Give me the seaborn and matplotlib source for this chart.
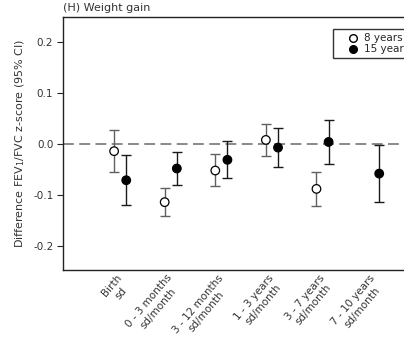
import numpy as np
import pandas as pd
import matplotlib
matplotlib.use("Agg")
import matplotlib.pyplot as plt
import matplotlib.transforms as mtransforms
import seaborn as sns
from matplotlib.lines import Line2D

categories = ["Birth\nsd", "0 - 3 months\nsd/month", "3 - 12 months\nsd/month",
              "1 - 3 years\nsd/month", "3 - 7 years\nsd/month", "7 - 10 years\nsd/month"]
est_8 = [-0.014, -0.114, -0.052, 0.008, -0.088, np.nan]
lo_8 = [-0.055, -0.142, -0.082, -0.023, -0.122, np.nan]
hi_8 = [0.027, -0.087, -0.020, 0.040, -0.054, np.nan]
est_15 = [-0.071, -0.048, -0.031, -0.007, 0.004, -0.058]
lo_15 = [-0.120, -0.081, -0.067, -0.045, -0.039, -0.114]
hi_15 = [-0.022, -0.015, 0.005, 0.031, 0.048, -0.002]
yticks = [-0.2, -0.1, 0.0, 0.1, 0.2]

sns.set_style("ticks")
plt.rcParams['font.family'] = ['DejaVu Sans']

fig = plt.figure(figsize=(4.04, 3.37), dpi=100)
ax = fig.add_axes([63/404, 67/337, 1 - 63/404, 253/337])

x = np.arange(len(categories))
off = 0.12
df = pd.DataFrame({
    "x": np.concatenate([x - off, x + off]),
    "y": est_8 + est_15,
    "lo": lo_8 + lo_15,
    "hi": hi_8 + hi_15,
    "group": ["8 years"] * len(x) + ["15 years"] * len(x),
})

ax.axhline(0, color="#808080", lw=1.3, ls=(0, (6, 3)), zorder=1)

for grp, col in [("8 years", "#606060"), ("15 years", "#1a1a1a")]:
    d = df[df["group"] == grp].dropna()
    ax.errorbar(d["x"], d["y"], yerr=[d["y"] - d["lo"], d["hi"] - d["y"]],
                fmt="none", ecolor=col, elinewidth=1.0, capsize=3.5, capthick=1.0, zorder=2)

sns.scatterplot(data=df.dropna(), x="x", y="y", hue="group",
                palette={"8 years": "white", "15 years": "black"},
                edgecolor="black", linewidth=0.9, s=38, ax=ax, zorder=3, legend=False)

ax.set_xlim(-1.13, 5.61)
ax.set_ylim(-0.247, 0.249)
ax.set_yticks(yticks)
ax.set_yticklabels([f"{v:.1f}" for v in yticks], fontsize=7.5, color="#333333")
ax.set_xticks(x)
ax.set_xticklabels(categories, rotation=50, ha="right", va="top", rotation_mode="anchor",
                   fontsize=7.5, multialignment="center", color="#333333")
ax.tick_params(axis="x", length=0, pad=2)
shift = mtransforms.ScaledTranslation(-4/100, 0, fig.dpi_scale_trans)
for lbl in ax.get_xticklabels():
    lbl.set_transform(lbl.get_transform() + shift)
ax.tick_params(axis="y", length=4, width=0.8, direction="out", pad=3)
ax.set_xlabel("")
ax.set_ylabel("Difference FEV$_1$/FVC z-score (95% CI)", fontsize=8, color="#333333", labelpad=4)
for s in ["left", "top", "bottom"]:
    ax.spines[s].set_linewidth(1.0)
    ax.spines[s].set_color("#222222")
ax.spines["right"].set_visible(False)

fig.text(63/404, 1 - 8/337, "(H) Weight gain", fontsize=8, ha="left", va="center", color="#333333")

handles = [Line2D([], [], ls="none", marker="o", mfc="white", mec="black", ms=5.5, label="8 years"),
           Line2D([], [], ls="none", marker="o", mfc="black", mec="black", ms=5.5, label="15 years")]
leg = ax.legend(handles=handles, loc="upper left", bbox_to_anchor=(333/404, 1 - 29/337),
                bbox_transform=fig.transFigure, frameon=True, fancybox=False, fontsize=7.5,
                handletextpad=-0.4, borderpad=0.4, labelspacing=0.1, handlelength=2.96, borderaxespad=0)
leg.get_frame().set_edgecolor("black")
leg.get_frame().set_linewidth(1.0)

fig.savefig("out.png", dpi=100)
